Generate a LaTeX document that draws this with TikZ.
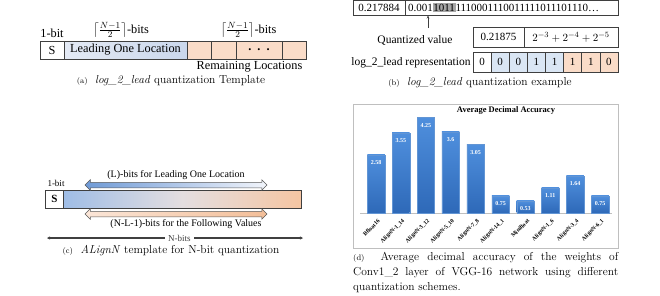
\documentclass[tikz,border=0pt]{standalone}
\usepackage{fontspec}
\usepackage{amsmath}
\newfontfamily\tms{Liberation Serif}
\usetikzlibrary{shapes.arrows,arrows.meta,calc}
\definecolor{edge}{HTML}{3F3F3F}
\definecolor{lblue}{HTML}{DAE6F4}
\definecolor{lblueA}{HTML}{E4EAF5}
\definecolor{lblueB}{HTML}{CAD7EC}
\definecolor{lorange}{HTML}{FADCC8}
\definecolor{hlgray}{HTML}{A6A6A6}
\definecolor{barblue}{HTML}{3B7AC9}
\definecolor{bartop}{HTML}{4F8FDD}
\definecolor{barbot}{HTML}{2E69B8}
\definecolor{framegray}{HTML}{BFBFBF}
\definecolor{gradL}{HTML}{9FBDE6}
\definecolor{gradM}{HTML}{E4DEE0}
\definecolor{gradR}{HTML}{F5C5A2}
\definecolor{arrBlue}{HTML}{6F9AD6}
\definecolor{arrBlueR}{HTML}{F2F5FB}
\definecolor{arrOrL}{HTML}{FBE6D8}
\definecolor{arrOrR}{HTML}{F3BE98}
\begin{document}
\begin{tikzpicture}[x=1pt,y=-1pt,
  cellA/.style={draw=edge, line width=0.6pt, inner sep=0pt, minimum height=18pt, font=\tms\fontsize{12.3}{12.3}\selectfont},
  cellB/.style={draw=edge, line width=0.6pt, inner sep=0pt, minimum height=20pt, font=\tms\fontsize{11}{11}\selectfont},
  txtA/.style={inner sep=0pt, font=\tms\fontsize{12.3}{12.3}\selectfont},
  txtB/.style={inner sep=0pt, font=\tms\fontsize{11.5}{11.5}\selectfont},
  txtC/.style={inner sep=0pt, font=\tms\fontsize{10}{10}\selectfont},
  capt/.style={inner sep=0pt, font=\fontsize{11.5}{14}\selectfont},
  bar/.style={inner sep=0pt, minimum width=17.5pt, top color=bartop, bottom color=barbot, draw=barblue!80!white, line width=0.3pt},
  vallab/.style={inner sep=0pt, text=white, font=\tms\bfseries\fontsize{6}{6}\selectfont},
  axlab/.style={inner sep=0pt, font=\tms\bfseries\fontsize{5.8}{5.8}\selectfont},
  hollow/.style={double arrow, draw=gray!70!black, line width=0.5pt, inner sep=2.5pt, double arrow head extend=2.5pt, minimum height=182pt}
]
\useasboundingbox (0,0) rectangle (660,295);

% ---------------- (a) ----------------
\node[cellA, minimum width=24pt, fill=white] (aS) at (52,50) {S};
\node[cellA, minimum width=123pt, left color=lblueA, right color=lblueB] (aL) at (125.5,50) {Leading One Location};
\node[cellA, minimum width=24pt, fill=lorange] (ar1) at (199.5,50) {};
\node[cellA, minimum width=25pt, fill=lorange] (ar2) at (223.5,50) {};
\node[cellA, minimum width=46pt, fill=lorange] (ar3) at (259,50) {\bfseries .\hspace{6pt}.\hspace{6pt}.};
\node[cellA, minimum width=24pt, fill=lorange] (ar4) at (294,50) {};
\node[txtA, anchor=base] (a1bit) at (52,37) {1-bit};
\node[txtA] (afr1) at (121,30) {$\left\lceil\frac{N-1}{2}\right\rceil$-bits};
\node[txtA] (afr2) at (248.5,30) {$\left\lceil\frac{N-1}{2}\right\rceil$-bits};
\node[txtA] (arem) at (249.5,67) {Remaining Locations};
\node[capt] (capa) at (171,81) {{\footnotesize(a)}\ \ \textit{log\_2\_lead} quantization Template};

% ---------------- (b) ----------------
\node[cellB, minimum width=52pt, minimum height=15pt, fill=white] (bval) at (379,7.5) {0.217884};
\node[cellB, minimum width=213pt, minimum height=15pt, fill=white] (bbin) at (511.5,7.5)
  {\makebox[207pt][l]{0.001{\setlength{\fboxsep}{0.6pt}\colorbox{hlgray}{1011}}1110001110011111011101110\ldots}};
\coordinate (btail) at (428,28);
\coordinate (bhead) at (428,15.5);
\draw[edge, line width=0.6pt, -{Stealth[length=3pt,width=2.5pt]}] (btail) -- (bhead);
\node[txtB] (bqlab) at (415,40) {Quantized value};
\node[cellB, minimum width=51pt, fill=white] (bq1) at (498.5,37) {0.21875};
\node[cellB, minimum width=94pt, fill=white] (bq2) at (571,37) {$2^{-3}+2^{-4}+2^{-5}$};
\node[txtB] (brlab) at (411,63) {log\_2\_lead representation};
\foreach \b/\c [count=\i from 0] in {0/white,0/lblue,0/lblue,1/lblue,1/lblue,1/lorange,1/lorange,0/lorange}{
  \node[cellB, minimum width=18.125pt, fill=\c] (bc\i) at ({482.06+18.125*\i},62) {\b};
}
\node[capt] (capb) at (480,83) {{\footnotesize(b)}\ \ \textit{log\_2\_lead} quantization example};

% ---------------- (c) ----------------
\node[txtC, font=\tms\fontsize{9}{9}\selectfont] (c1bit) at (56,183) {1-bit};
\node[cellA, minimum width=18pt, font=\tms\bfseries\fontsize{11}{11}\selectfont, fill=white] (cS) at (54.5,199) {S};
\node[draw=edge, line width=0.6pt, inner sep=0pt, minimum width=238pt, minimum height=18pt,
      left color=gradL, right color=gradR, middle color=gradM] (cbar) at (182.5,199) {};
\node[hollow, left color=arrBlue, right color=arrBlueR] (ctop) at (176,185) {};
\node[txtC] (ctoplab) at (176,175) {(L)-bits for Leading One Location};
\node[hollow, left color=arrOrL, right color=arrOrR] (cbot) at (176,214) {};
\node[txtC] (cbotlab) at (186,224) {(N-L-1)-bits for the Following Values};
\coordinate (cnl) at (47,238);
\coordinate (cnr) at (303,238);
\draw[black!75, line width=1.1pt, {Stealth[length=3pt,width=3pt]}-{Stealth[length=3pt,width=3pt]}] (cnl) -- (cnr)
  node[pos=0.517, fill=white, inner xsep=3pt, inner ysep=0pt, font=\tms\fontsize{9}{9}\selectfont] (cnlab) {N-bits};
\node[capt] (capc) at (171,251) {{\footnotesize(c)}\ \ \textit{ALignN} template for N-bit quantization};

% ---------------- (d) ----------------
\node[draw=framegray, line width=0.8pt, inner sep=0pt, minimum width=265pt, minimum height=144pt, anchor=north west] (dframe) at (353,104) {};
\node[inner sep=0pt, font=\tms\bfseries\fontsize{8.5}{8.5}\selectfont] (dtitle) at (506,110) {Average Decimal Accuracy};
\coordinate (dbl) at (360,213);
\coordinate (dbr) at (612,213);
\draw[framegray, line width=0.5pt] (dbl) -- (dbr);
\foreach \v/\lab [count=\i from 0] in {2.58/Bfloat16,3.55/AlignN-1\_14,4.25/AlignN-3\_12,3.6/AlignN-5\_10,3.05/AlignN-7\_8,0.75/AlignN-14\_1,0.53/Minifloat,1.11/AlignN-1\_6,1.64/AlignN-3\_4,0.75/AlignN-6\_1}{
  \pgfmathsetmacro\h{\v*22.5}
  \node[bar, minimum height=\h pt, anchor=south] (bar\i) at ({376+24.9*\i},213) {};
  \node[vallab] (val\i) at ([yshift=-8pt]bar\i.north) {\v};
  \node[axlab, anchor=east, rotate=45] (lab\i) at ([xshift=3pt,yshift=-7pt]bar\i.south) {\lab};
}
\node[inner sep=0pt, anchor=north west, font=\fontsize{11.5}{15}\selectfont] (capd) at (353,252)
  {\parbox{265pt}{{\footnotesize(d)}\ \ Average decimal accuracy of the weights of Conv1\_2 layer of VGG-16 network using different quantization schemes.}};
\end{tikzpicture}
\end{document}
